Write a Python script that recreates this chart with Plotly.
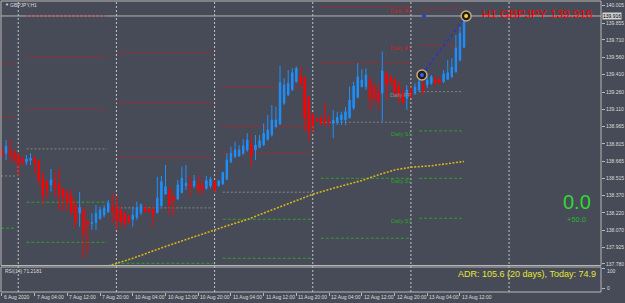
import plotly.graph_objects as go

symbol = "GBPJPY"
timeframe = "H1"
bid_price = 139.916

open_ = [138.756, 138.734, 138.768, 138.739, 138.719, 138.691, 138.661, 138.673, 138.691, 138.667,
         138.518, 138.489, 138.461, 138.489, 138.461, 138.424, 138.389, 138.360, 138.280, 138.217,
         138.245, 138.145, 138.127, 138.136, 138.174, 138.202, 138.231, 138.274, 138.269, 138.245,
         138.217, 138.182, 138.165, 138.182, 138.222, 138.260, 138.251, 138.245, 138.222, 138.280,
         138.383, 138.418, 138.360, 138.340, 138.394, 138.455, 138.475, 138.452, 138.475, 138.461,
         138.432, 138.452, 138.489, 138.455, 138.469, 138.510, 138.661, 138.704, 138.710, 138.734,
         138.762, 138.805, 138.762, 138.785, 138.805, 138.854, 138.891, 138.963, 138.986, 139.164,
         139.236, 139.279, 139.350, 139.408, 139.385, 139.216, 139.070, 139.029, 139.029, 139.020,
         139.014, 138.992, 138.997, 139.020, 139.020, 139.038, 139.124, 139.216, 139.307, 139.307,
         139.365, 139.302, 139.264, 139.250, 139.428, 139.388, 139.365, 139.313, 139.244, 139.207,
         139.279, 139.250, 139.279, 139.322, 139.322, 139.337, 139.371, 139.365, 139.350, 139.371,
         139.393, 139.436, 139.537, 139.647]
high = [138.797, 138.848, 138.854, 138.762, 138.736, 138.702, 138.719, 138.736, 138.702, 138.676,
        138.575, 138.504, 138.598, 138.575, 138.604, 138.435, 138.418, 138.418, 138.331, 138.400,
        138.274, 138.159, 138.217, 138.288, 138.274, 138.288, 138.331, 138.389, 138.360, 138.280,
        138.228, 138.211, 138.274, 138.317, 138.303, 138.288, 138.263, 138.274, 138.532, 138.538,
        138.633, 138.446, 138.375, 138.504, 138.618, 138.633, 138.538, 138.547, 138.547, 138.504,
        138.538, 138.532, 138.504, 138.504, 138.575, 138.734, 138.791, 138.834, 138.805, 138.854,
        138.906, 138.891, 138.891, 138.891, 138.992, 139.064, 139.150, 139.135, 139.486, 139.380,
        139.451, 139.466, 139.480, 139.480, 139.393, 139.221, 139.078, 139.038, 139.064, 139.169,
        139.064, 139.107, 139.092, 139.092, 139.132, 139.307, 139.350, 139.509, 139.457, 139.466,
        139.393, 139.337, 139.337, 139.609, 139.436, 139.408, 139.380, 139.350, 139.307, 139.322,
        139.305, 139.337, 139.380, 139.365, 139.393, 139.408, 139.399, 139.388, 139.451, 139.537,
        139.552, 139.753, 139.824, 139.939]
low = [138.693, 138.676, 138.661, 138.650, 138.532, 138.633, 138.633, 138.633, 138.561, 138.461,
       138.297, 138.349, 138.403, 138.360, 138.245, 138.239, 138.237, 138.202, 138.088, 138.101,
       137.829, 137.872, 138.073, 138.073, 138.159, 138.182, 138.217, 138.131, 138.073, 138.101,
       138.088, 138.125, 138.101, 138.159, 138.202, 138.222, 138.219, 138.101, 138.217, 138.274,
       138.375, 138.202, 138.194, 138.331, 138.389, 138.418, 138.360, 138.435, 138.383, 138.375,
       138.418, 138.432, 138.400, 138.446, 138.461, 138.504, 138.648, 138.691, 138.704, 138.719,
       138.747, 138.618, 138.676, 138.777, 138.797, 138.842, 138.877, 138.949, 138.977, 139.150,
       139.227, 139.273, 139.342, 139.322, 138.920, 138.834, 138.906, 139.003, 138.977, 138.963,
       138.963, 138.863, 138.977, 138.977, 138.977, 139.035, 139.107, 139.207, 139.302, 139.279,
       139.107, 139.164, 139.107, 139.006, 139.193, 139.322, 139.221, 139.164, 139.164, 139.107,
       139.210, 139.236, 139.264, 139.236, 139.294, 139.322, 139.313, 139.322, 139.337, 139.365,
       139.380, 139.428, 139.523, 139.638]
close = [138.719, 138.791, 138.719, 138.682, 138.633, 138.648, 138.685, 138.691, 138.648, 138.504,
         138.375, 138.424, 138.504, 138.441, 138.375, 138.355, 138.308, 138.222, 138.145, 138.269,
         138.045, 138.116, 138.136, 138.217, 138.245, 138.260, 138.308, 138.245, 138.159, 138.145,
         138.131, 138.145, 138.202, 138.260, 138.288, 138.231, 138.231, 138.202, 138.346, 138.489,
         138.446, 138.288, 138.331, 138.461, 138.518, 138.475, 138.437, 138.495, 138.418, 138.418,
         138.498, 138.510, 138.418, 138.495, 138.567, 138.676, 138.734, 138.762, 138.762, 138.797,
         138.848, 138.719, 138.805, 138.842, 138.906, 138.934, 139.020, 139.020, 139.342, 139.322,
         139.337, 139.428, 139.466, 139.337, 139.040, 138.928, 138.969, 139.012, 138.986, 139.006,
         139.009, 139.020, 139.044, 139.064, 139.092, 139.193, 139.313, 139.393, 139.365, 139.408,
         139.207, 139.207, 139.178, 139.445, 139.322, 139.350, 139.264, 139.236, 139.169, 139.279,
         139.221, 139.302, 139.350, 139.273, 139.365, 139.393, 139.337, 139.342, 139.417, 139.428,
         139.474, 139.638, 139.767, 139.916]
bar_index = list(range(len(close)))

time_tick_index = [0, 8, 16, 24, 32, 40, 48, 56, 64, 72, 80, 88, 96, 104, 112]
time_tick_text = ["6 Aug 2020", "7 Aug 04:00", "7 Aug 12:00", "7 Aug 20:00", "10 Aug 04:00",
                  "10 Aug 12:00", "10 Aug 20:00", "11 Aug 04:00", "11 Aug 12:00", "11 Aug 20:00",
                  "12 Aug 04:00", "12 Aug 12:00", "12 Aug 20:00", "13 Aug 04:00", "13 Aug 12:00"]
day_start_index = [4, 28, 52, 76, 100, 124]

price_ticks = [140.005, 139.855, 139.710, 139.560, 139.410, 139.260, 139.110, 138.965,
               138.815, 138.665, 138.515, 138.370, 138.220, 138.070, 137.925, 137.780]
rsi_ticks = [100, 0]
rsi_value = 71.2181

ma_index = [26, 32, 40, 48, 52, 56, 60, 68, 76, 81, 88, 92, 96, 100, 105, 109, 113]
ma_value = [137.763, 137.829, 137.931, 138.026, 138.079, 138.120, 138.163, 138.274, 138.381,
            138.432, 138.499, 138.547, 138.590, 138.613, 138.626, 138.644, 138.663]

# daily pivot levels (6, 7, 10, 11, 12, 13 Aug) and the bars they span
pivot_start = [-0.2, 6, 28, 54, 78, 102]
pivot_end = [3.2, 25.7, 51.6, 75.8, 99.8, 112.7]
pivot_R3 = [None, 139.916, 139.602, 139.302, None, None]
pivot_R2 = [139.503, 139.566, 139.171, 138.963, 139.991, 139.982]
pivot_R1 = [139.049, 139.113, 138.698, 138.734, 139.509, 139.666]
pivot_PP = [138.538, 138.771, 138.263, 138.398, 139.001, 139.264]
pivot_S1 = [138.088, 138.312, 137.786, 138.165, 138.518, 138.926]
pivot_S2 = [None, 137.967, None, 137.829, 138.002, 138.518]
pivot_S3 = [None, None, None, None, None, 138.174]

trade_index = [102.7, 113.5]
trade_price = [139.408, 139.916]

adr_value = 105.6
adr_days = 20
adr_today = 74.9
big_value = 0.0
small_value = 50.0

BG = "#464b57"
FRAME = "#b8b8b8"
TXT = "#dcdcdc"
FONT = "Liberation Sans, Arial, sans-serif"

MAIN_BOTTOM = 0.0911
RSI_TOP = 0.0859

fig = go.Figure()
fig.add_trace(go.Candlestick(
    x=bar_index, open=open_, high=high, low=low, close=close,
    increasing=dict(line=dict(color="#1e90ff", width=1), fillcolor="#1e90ff"),
    decreasing=dict(line=dict(color="#ff0000", width=1), fillcolor="#ff0000"),
    whiskerwidth=0, showlegend=False, hoverinfo="skip", xaxis="x", yaxis="y"))
fig.add_trace(go.Scatter(x=ma_index, y=ma_value, mode="lines",
                         line=dict(color="#d6b418", width=1.6, dash="2px,1.5px"),
                         showlegend=False, hoverinfo="skip", xaxis="x", yaxis="y"))
fig.add_trace(go.Scatter(x=trade_index, y=trade_price, mode="lines",
                         line=dict(color="#2a2ae6", width=1.3, dash="dot"),
                         showlegend=False, hoverinfo="skip", xaxis="x", yaxis="y"))
fig.add_trace(go.Scatter(x=trade_index, y=trade_price, mode="markers",
                         marker=dict(size=10, color="#1e1e1e", line=dict(color="#c8aa78", width=1.5)),
                         showlegend=False, hoverinfo="skip", xaxis="x", yaxis="y"))
fig.add_trace(go.Scatter(x=trade_index, y=trade_price, mode="markers",
                         marker=dict(size=4, color=["#3a5cff", "#ffd02a"]),
                         showlegend=False, hoverinfo="skip", xaxis="x", yaxis="y"))
fig.add_trace(go.Scatter(x=[bar_index[-1]], y=[rsi_value], mode="markers",
                         marker=dict(opacity=0), showlegend=False, hoverinfo="skip",
                         xaxis="x2", yaxis="y2"))

shapes = []
for d in day_start_index:
    shapes.append(dict(type="line", xref="x", yref="paper", x0=d, x1=d, y0=0, y1=1,
                       line=dict(color="#c4c4c4", width=1, dash="2px,2px"), layer="below"))
levels = [(pivot_R3, "#c81e1e", "2px,2px"), (pivot_R2, "#c81e1e", "2px,2px"),
          (pivot_R1, "#c81e1e", "2px,2px"), (pivot_PP, "#868686", "2px,2px"),
          (pivot_S1, "#2ea02e", "3px,2px"), (pivot_S2, "#2ea02e", "3px,2px"),
          (pivot_S3, "#2ea02e", "3px,2px")]
for vals, col, dash in levels:
    for k, v in enumerate(vals):
        if v is None:
            continue
        shapes.append(dict(type="line", xref="x", yref="y", x0=pivot_start[k], x1=pivot_end[k],
                           y0=v, y1=v, line=dict(color=col, width=1, dash=dash), layer="below"))
shapes.append(dict(type="line", xref="paper", yref="y", x0=0, x1=1, y0=bid_price, y1=bid_price,
                   line=dict(color="#b4b4b4", width=1), layer="below"))
shapes.append(dict(type="line", xref="x", yref="y", x0=trade_index[0], x1=trade_index[0] + 1,
                   y0=bid_price, y1=bid_price, line=dict(color="#2040ff", width=2)))
shapes.append(dict(type="rect", xref="paper", yref="paper", x0=0, x1=1, y0=MAIN_BOTTOM, y1=1,
                   line=dict(color=FRAME, width=1)))
shapes.append(dict(type="rect", xref="paper", yref="paper", x0=0, x1=1, y0=0, y1=RSI_TOP,
                   line=dict(color=FRAME, width=1)))

ann = []
for t, lab in zip(time_tick_index, time_tick_text):
    ann.append(dict(x=t, y=-0.0172, xref="x", yref="paper", text=lab, showarrow=False,
                    xanchor="left", yanchor="middle", xshift=0,
                    font=dict(size=5, color=TXT, family=FONT)))
last = len(pivot_start) - 1
label_specs = [("Daily R2", pivot_R2[last], "#d02020"), ("Daily R1", pivot_R1[last], "#d02020"),
               ("Daily PP", pivot_PP[last], "#9a8a8a"), ("Daily S1", pivot_S1[last], "#2ea02e"),
               ("Daily S2", pivot_S2[last], "#2ea02e"), ("Daily S3", pivot_S3[last], "#2ea02e")]
for txt, v, col in label_specs:
    ann.append(dict(x=100.6, y=v, xref="x", yref="y", text=txt, showarrow=False,
                    xanchor="right", yanchor="middle", yshift=-3,
                    font=dict(size=5.5, color=col, family=FONT)))
ann.append(dict(x=1.0, y=bid_price, xref="paper", yref="y", text=f"{bid_price:.3f}",
                showarrow=False, xanchor="left", yanchor="middle", xshift=1,
                bgcolor="#d2d2d2", borderpad=0, font=dict(size=5, color="#000000", family=FONT)))
for v, ys in zip(rsi_ticks, [-2.5, 0]):
    ann.append(dict(x=1.0, y=v, xref="paper", yref="y2", text=str(v), showarrow=False,
                    xanchor="left", yanchor="middle", xshift=4, yshift=ys,
                    font=dict(size=5, color=TXT, family=FONT)))
ann.append(dict(x=0.99, y=0.9553, xref="paper", yref="paper",
                text=f"{timeframe} {symbol} {bid_price:.3f}", showarrow=False,
                xanchor="right", yanchor="middle", font=dict(size=11.8, color="#ff0000", family=FONT)))
ann.append(dict(x=0.96, y=0.309, xref="paper", yref="paper", text=f"{big_value:.1f}",
                showarrow=False, xanchor="center", yanchor="middle",
                font=dict(size=20, color="#33d633", family=FONT)))
ann.append(dict(x=0.959, y=0.2475, xref="paper", yref="paper", text=f"+{small_value:.1f}",
                showarrow=False, xanchor="center", yanchor="middle",
                font=dict(size=7.5, color="#2cb42c", family=FONT)))
ann.append(dict(x=0.995, y=0.0619, xref="paper", yref="paper",
                text=f"ADR: {adr_value:.1f} ({adr_days} days), Today: {adr_today:.1f}",
                showarrow=False, xanchor="right", yanchor="middle",
                font=dict(size=9, color="#e6e632", family=FONT)))
ann.append(dict(x=0.003, y=0.0722, xref="paper", yref="paper", text=f"RSI(14) {rsi_value:.4f}",
                showarrow=False, xanchor="left", yanchor="middle",
                font=dict(size=5, color=TXT, family=FONT)))
ann.append(dict(x=0.0115, y=0.9863, xref="paper", yref="paper", text=f"{symbol},{timeframe}",
                showarrow=False, xanchor="left", yanchor="middle",
                font=dict(size=5, color=TXT, family=FONT)))
ann.append(dict(x=0.0035, y=0.9863, xref="paper", yref="paper", text="▼",
                showarrow=False, xanchor="left", yanchor="middle",
                font=dict(size=4, color="#e8e8e8", family=FONT)))

xr = [-0.22, 146.48]
fig.update_layout(
    width=625, height=303,
    margin=dict(l=1, r=24, t=1, b=11),
    paper_bgcolor=BG, plot_bgcolor=BG,
    boxgap=0.5,
    showlegend=False,
    shapes=shapes, annotations=ann,
    xaxis=dict(domain=[0, 1], range=xr, showticklabels=False, showgrid=False, zeroline=False,
               rangeslider=dict(visible=False), anchor="y", ticks=""),
    yaxis=dict(domain=[MAIN_BOTTOM, 1], range=[137.767, 140.045], side="right",
               tickvals=price_ticks, ticktext=[f"{p:.3f}" for p in price_ticks],
               ticks="outside", ticklen=3, tickcolor=FRAME,
               tickfont=dict(size=5, color=TXT, family=FONT),
               showgrid=False, zeroline=False, anchor="x"),
    xaxis2=dict(domain=[0, 1], range=xr, matches="x", showticklabels=False, showgrid=False,
                zeroline=False, anchor="y2", tickvals=time_tick_index, ticks="outside",
                ticklen=3, tickcolor=FRAME),
    yaxis2=dict(domain=[0, RSI_TOP], range=[-20, 105], side="right", tickvals=rsi_ticks,
                showticklabels=False, ticks="outside", ticklen=3, tickcolor=FRAME,
                showgrid=False, zeroline=False, anchor="x2"),
)
fig.write_html("out.html")
